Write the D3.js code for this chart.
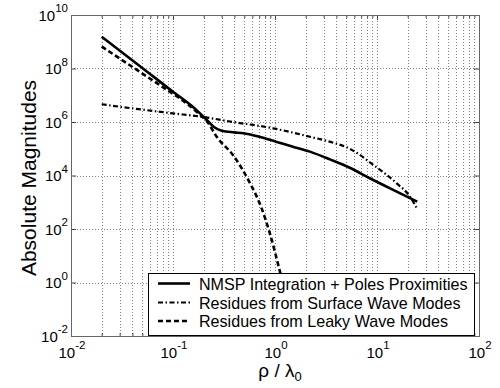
<!DOCTYPE html>
<html>
<head>
<meta charset="utf-8">
<script src="https://cdn.jsdelivr.net/npm/d3@7"></script>
<style>
  body { margin: 0; background: #fff; }
  svg { display: block; font-family: "Liberation Sans", Arial, Helvetica, sans-serif; }
</style>
</head>
<body>
<svg id="chart" width="500" height="388"></svg>
<script>
// Data (x = rho / lambda0, y = magnitude)
const xSolid = [0.02, 0.05, 0.1, 0.15, 0.184, 0.214, 0.25, 0.3, 0.4, 0.49, 0.7, 1.04, 1.5, 2.2, 3.46, 5.4, 8.5, 15.6, 24.8];
const ySolid = [1.55e9, 1.05e8, 1.35e7, 4.2e6, 2.1e6, 1.2e6, 6.6e5, 4.7e5, 4.1e5, 3.8e5, 2.8e5, 1.8e5, 1.2e5, 7.8e4, 4.0e4, 1.95e4, 7.9e3, 2.5e3, 1.05e3];

const xSurface = [0.02, 0.05, 0.1, 0.184, 0.39, 0.96, 1.5, 2.2, 3.5, 5.4, 9.2, 15.6, 21.1, 24.8];
const ySurface = [4.6e6, 2.9e6, 2.1e6, 1.6e6, 1.0e6, 5.8e5, 4.0e5, 2.8e5, 1.8e5, 1.0e5, 2.5e4, 5.1e3, 1.6e3, 5.5e2];

const xLeaky = [0.02, 0.05, 0.093, 0.136, 0.184, 0.214, 0.268, 0.39, 0.57, 0.74, 0.89, 1.12, 1.3];
const yLeaky = [6.6e8, 6.5e7, 1.35e7, 5.0e6, 1.85e6, 1.1e6, 2.8e5, 5.6e4, 5.1e3, 5.9e2, 69, 2.5, 0.25];

const xTickExps = [-2, -1, 0, 1, 2];
const yTickExps = [-2, 0, 2, 4, 6, 8, 10];

const legendLabels = [
  "NMSP Integration + Poles Proximities",
  "Residues from Surface Wave Modes",
  "Residues from Leaky Wave Modes"
];

const svg = d3.select("#chart");
const pLeft = 71, pRight = 479, pTop = 15, pBottom = 336;

const x = d3.scaleLog().domain([1e-2, 1e2]).range([pLeft, pRight]);
const y = d3.scaleLog().domain([1e-2, 1e10]).range([pBottom, pTop]);

// grid
const xGrid = [];
for (let e = -2; e < 2; e++) {
  for (let m = 1; m < 10; m++) {
    const v = m * Math.pow(10, e);
    if (v > 1e-2) xGrid.push(v);
  }
}
const yGrid = yTickExps.slice(1, -1).map(e => Math.pow(10, e));

const grid = svg.append("g")
  .attr("stroke", "#808080")
  .attr("stroke-width", 1)
  .attr("stroke-dasharray", "1,2");

grid.selectAll(".gx").data(xGrid).enter().append("line")
  .attr("x1", d => Math.round(x(d)) + 0.5).attr("x2", d => Math.round(x(d)) + 0.5)
  .attr("y1", pTop).attr("y2", pBottom);

grid.selectAll(".gy").data(yGrid).enter().append("line")
  .attr("y1", d => Math.round(y(d)) + 0.5).attr("y2", d => Math.round(y(d)) + 0.5)
  .attr("x1", pLeft).attr("x2", pRight);

// axes: inward ticks on all sides
const xMajor = xTickExps.map(e => Math.pow(10, e));
const yMajor = yTickExps.map(e => Math.pow(10, e));

const styleAxis = g => {
  g.select(".domain").remove();
  g.selectAll("line").attr("stroke", "#444");
};

svg.append("g").attr("transform", `translate(0,${pBottom})`)
  .call(d3.axisBottom(x).tickValues(xGrid).tickSize(-3).tickFormat(""))
  .call(styleAxis);
svg.append("g").attr("transform", `translate(0,${pTop})`)
  .call(d3.axisTop(x).tickValues(xGrid).tickSize(-3).tickFormat(""))
  .call(styleAxis);
svg.append("g").attr("transform", `translate(0,${pBottom})`)
  .call(d3.axisBottom(x).tickValues(xMajor).tickSize(-5).tickFormat(""))
  .call(styleAxis);
svg.append("g").attr("transform", `translate(0,${pTop})`)
  .call(d3.axisTop(x).tickValues(xMajor).tickSize(-5).tickFormat(""))
  .call(styleAxis);
svg.append("g").attr("transform", `translate(${pLeft},0)`)
  .call(d3.axisLeft(y).tickValues(yMajor).tickSize(-5).tickFormat(""))
  .call(styleAxis);
svg.append("g").attr("transform", `translate(${pRight},0)`)
  .call(d3.axisRight(y).tickValues(yMajor).tickSize(-5).tickFormat(""))
  .call(styleAxis);

// tick labels with superscripts
const xLab = svg.append("g").attr("font-size", 15).attr("fill", "#000");
xTickExps.forEach(e => {
  const t = xLab.append("text")
    .attr("x", x(Math.pow(10, e)) + 1)
    .attr("y", 358)
    .attr("text-anchor", "middle");
  t.append("tspan").text("10");
  t.append("tspan").attr("dy", -9).attr("font-size", 11.5).text(e);
});

const yLab = svg.append("g").attr("font-size", 15).attr("fill", "#000");
yTickExps.forEach(e => {
  const t = yLab.append("text")
    .attr("x", 68)
    .attr("y", y(Math.pow(10, e)) + 5.5)
    .attr("text-anchor", "end");
  t.append("tspan").text("10");
  t.append("tspan").attr("dy", -8.5).attr("font-size", 11.5).text(e);
});

// curves
const line = d3.line()
  .x(d => x(d[0]))
  .y(d => y(d[1]))
  .curve(d3.curveMonotoneX);

const series = [
  { xs: xSurface, ys: ySurface, width: 2.2, dash: "5,2.5,1.5,2.5" },
  { xs: xLeaky, ys: yLeaky, width: 2.6, dash: "5,3" },
  { xs: xSolid, ys: ySolid, width: 2.6, dash: null }
];

svg.append("clipPath").attr("id", "plotclip")
  .append("rect").attr("x", pLeft).attr("y", pTop)
  .attr("width", pRight - pLeft).attr("height", pBottom - pTop);

series.forEach(s => {
  svg.append("path")
    .datum(d3.zip(s.xs, s.ys))
    .attr("clip-path", "url(#plotclip)")
    .attr("fill", "none")
    .attr("stroke", "#000")
    .attr("stroke-width", s.width)
    .attr("stroke-dasharray", s.dash)
    .attr("d", line);
});

// frame
svg.append("rect")
  .attr("x", pLeft + 0.5).attr("y", pTop + 0.5)
  .attr("width", pRight - pLeft).attr("height", pBottom - pTop)
  .attr("fill", "none").attr("stroke", "#666").attr("stroke-width", 1);

// legend
const legend = svg.append("g");
legend.append("rect")
  .attr("x", 148.5).attr("y", 273.5)
  .attr("width", 326).attr("height", 62)
  .attr("fill", "#fff").attr("stroke", "#000").attr("stroke-width", 1);

const legendStyles = [
  { width: 2.6, dash: null },
  { width: 2, dash: "5,2.5,1.5,2.5" },
  { width: 2.4, dash: "5,3" }
];
const rowY = [283.5, 302.5, 321];
legendLabels.forEach((lbl, i) => {
  legend.append("line")
    .attr("x1", 158).attr("x2", 190)
    .attr("y1", rowY[i]).attr("y2", rowY[i])
    .attr("stroke", "#000")
    .attr("stroke-width", legendStyles[i].width)
    .attr("stroke-dasharray", legendStyles[i].dash);
  legend.append("text")
    .attr("x", 199).attr("y", rowY[i] + 6)
    .attr("font-size", 16.1)
    .text(lbl);
});

// axis titles
svg.append("text")
  .attr("transform", "translate(36,178) rotate(-90)")
  .attr("text-anchor", "middle")
  .attr("font-size", 21)
  .text("Absolute Magnitudes");

const xt = svg.append("text")
  .attr("x", 280).attr("y", 377)
  .attr("text-anchor", "middle")
  .attr("font-size", 19);
xt.append("tspan").text("ρ / λ");
xt.append("tspan").attr("dy", 4).attr("font-size", 13).text("0");
</script>
</body>
</html>
